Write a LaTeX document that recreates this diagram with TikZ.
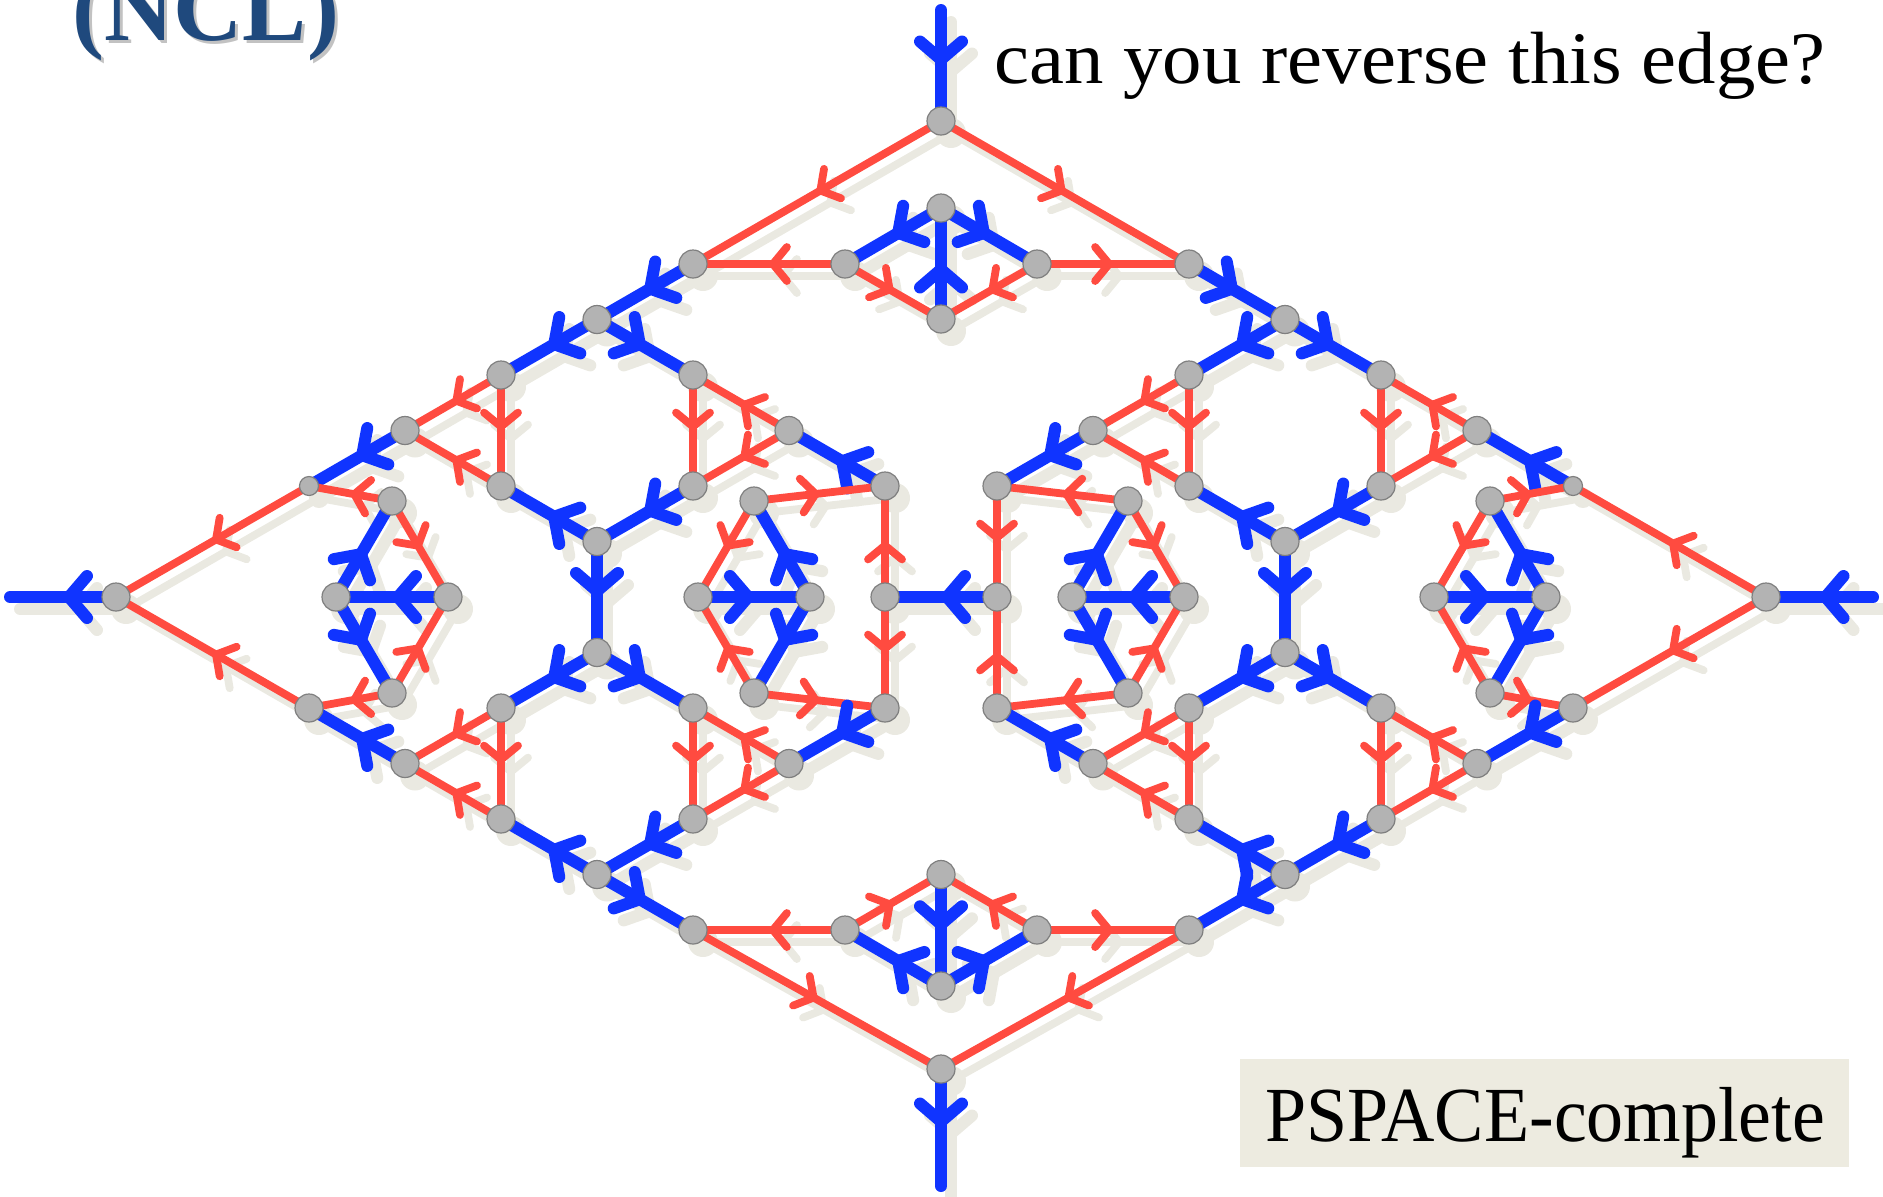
\documentclass[tikz,border=0pt]{standalone}
\usepackage{fontspec}
\setmainfont{Liberation Serif}
\usetikzlibrary{arrows.meta,decorations.markings}
\definecolor{ncred}{HTML}{FF4B40}
\definecolor{ncblue}{HTML}{1034FF}
\definecolor{ncgray}{HTML}{B3B3B3}
\definecolor{ncgrayd}{HTML}{7F7F7F}
\definecolor{ncshadow}{HTML}{EAE9E1}
\definecolor{ncbox}{HTML}{EDEBE0}
\definecolor{nctitle}{HTML}{1F497D}
\tikzset{
 mkred/.style={draw=#1, line width=3.9pt, line cap=round, postaction={decorate},
   decoration={markings, mark=at position 0.5 with {\arrow[#1]{Straight Barb[length=7pt,width=17pt,line width=3.9pt,round]}}}},
 mkblue/.style={draw=#1, line width=6pt, line cap=round, postaction={decorate},
   decoration={markings, mark=at position 0.5 with {\arrow[#1]{Straight Barb[length=9pt,width=21pt,line width=6pt,round]}}}},
 redline/.style={mkred=ncred},
 blueline/.style={mkblue=ncblue},
 vtx/.style={circle, fill=ncgray, draw=ncgrayd, line width=0.6pt, minimum size=14pt, inner sep=0pt},
 svtx/.style={vtx, minimum size=9.5pt},
}
\newcommand\ncR[2]{\draw[redline] (#1) -- (#2);}
\newcommand\ncB[2]{\draw[blueline] (#1) -- (#2);}
\newcommand\ncEdges{%
\ncB{ST}{T0}
\ncR{T0}{T1} \ncR{T0}{T2}
\ncR{A1}{T1} \ncR{A2}{T2}
\ncB{A3}{A1} \ncB{A3}{A2} \ncB{A4}{A3}
\ncR{A1}{A4} \ncR{A2}{A4}
\ncB{T1}{L1} \ncB{L1}{L2} \ncB{L1}{L3}
\ncR{L2}{L4} \ncR{L3}{L5}
\ncB{L6}{L4} \ncB{L5}{L6} \ncB{L6}{L7}
\ncR{L2}{L8} \ncR{L4}{L8} \ncB{L8}{L9}
\ncR{L10}{L3} \ncR{L10}{L5} \ncB{L11}{L10}
\ncR{L9}{L0} \ncR{L21}{L0} \ncB{L0}{SL}
\ncR{N1}{L9} \ncR{N4}{L21} \ncR{N1}{N3} \ncR{N4}{N3} \ncB{N2}{N1} \ncB{N3}{N2} \ncB{N2}{N4}
\ncR{M1}{L11} \ncR{M4}{L13} \ncR{M1}{M2} \ncR{M4}{M2} \ncB{M2}{M3} \ncB{M3}{M1} \ncB{M3}{M4}
\ncR{L12}{L11} \ncR{L12}{L13} \ncB{R12}{L12}
\ncR{R11}{R12} \ncR{R13}{R12}
\ncR{P1}{R11} \ncR{P4}{R13} \ncR{P1}{P3} \ncR{P4}{P3} \ncB{P2}{P1} \ncB{P3}{P2} \ncB{P2}{P4}
\ncB{L13}{L14}
\ncB{L7}{L19} \ncB{L7}{L15} \ncR{L19}{L18} \ncR{L15}{L16} \ncB{L17}{L18} \ncB{L16}{L17} \ncB{L17}{B1}
\ncR{L14}{L15} \ncR{L14}{L16}
\ncR{L19}{L20} \ncR{L18}{L20} \ncB{L20}{L21}
\ncR{B1}{B0} \ncR{C1}{B1} \ncR{C2}{B2} \ncR{B2}{B0} \ncB{B0}{SB}
\ncR{C1}{C3} \ncR{C2}{C3} \ncB{C3}{C4} \ncB{C4}{C1} \ncB{C4}{C2}
\ncB{T2}{R1} \ncB{R1}{R2} \ncB{R1}{R3} \ncR{R2}{R4} \ncR{R3}{R5} \ncB{R6}{R4} \ncB{R5}{R6} \ncB{R6}{R7}
\ncR{R2}{R8} \ncR{R4}{R8} \ncB{R8}{R11}
\ncR{R10}{R3} \ncR{R10}{R5} \ncB{R9}{R10}
\ncR{Q1}{R9} \ncR{Q4}{R21} \ncR{Q1}{Q2} \ncR{Q4}{Q2} \ncB{Q2}{Q3} \ncB{Q3}{Q1} \ncB{Q3}{Q4}
\ncR{R0}{R9} \ncR{R0}{R21} \ncB{SR}{R0}
\ncB{R7}{R19} \ncB{R7}{R15} \ncR{R19}{R18} \ncR{R15}{R16} \ncB{R17}{R18} \ncB{R16}{R17} \ncB{R17}{B2}
\ncR{R20}{R15} \ncR{R20}{R16} \ncB{R21}{R20}
\ncR{R19}{R14} \ncR{R18}{R14} \ncB{R14}{R13}
}
\newcommand\ncBig{T0,T1,T2,A1,A2,A3,A4,B0,B1,B2,C1,C2,C3,C4,
L0,L1,L2,L3,L4,L5,L6,L7,L8,L10,L11,L12,L13,L14,L15,L16,L17,L18,L19,L20,L21,
R0,R1,R2,R3,R4,R5,R6,R7,R8,R10,R11,R12,R13,R14,R15,R16,R17,R18,R19,R20,R21,
N1,N2,N3,N4,M1,M2,M3,M4,P1,P2,P3,P4,Q1,Q2,Q3,Q4}
\begin{document}
\begin{tikzpicture}[x=0.5pt,y=-0.5pt]
\useasboundingbox (0,0) rectangle (1883,1196);
\clip (0,0) rectangle (1883,1196);
% coordinates
\coordinate (ST) at (941,10);
\coordinate (T0) at (941,121);
\coordinate (T1) at (693,264);
\coordinate (T2) at (1189,264);
\coordinate (A1) at (845,264);
\coordinate (A2) at (1037,264);
\coordinate (A3) at (941,208);
\coordinate (A4) at (941,319);
\coordinate (L0) at (116,597);
\coordinate (SL) at (10,597);
\coordinate (L1) at (597,319.5);
\coordinate (L2) at (501,375);
\coordinate (L3) at (693,375);
\coordinate (L4) at (501,486);
\coordinate (L5) at (693,486);
\coordinate (L6) at (597,541.5);
\coordinate (L7) at (597,652.5);
\coordinate (L8) at (405,430.5);
\coordinate (L9) at (309,486);
\coordinate (L10) at (789,430.5);
\coordinate (L11) at (885,486);
\coordinate (L12) at (885,597);
\coordinate (L13) at (885,708);
\coordinate (L14) at (789,763.5);
\coordinate (L15) at (693,708);
\coordinate (L16) at (693,819);
\coordinate (L17) at (597,874.5);
\coordinate (L18) at (501,819);
\coordinate (L19) at (501,708);
\coordinate (L20) at (405,763.5);
\coordinate (L21) at (309,708);
\coordinate (N1) at (392,501);
\coordinate (N2) at (336,597);
\coordinate (N3) at (448,597);
\coordinate (N4) at (392,693);
\coordinate (M1) at (754,501);
\coordinate (M2) at (698,597);
\coordinate (M3) at (810,597);
\coordinate (M4) at (754,693);
\coordinate (R0) at (1766,597);
\coordinate (SR) at (1873,597);
\coordinate (R1) at (1285,319.5);
\coordinate (R2) at (1189,375);
\coordinate (R3) at (1381,375);
\coordinate (R4) at (1189,486);
\coordinate (R5) at (1381,486);
\coordinate (R6) at (1285,541.5);
\coordinate (R7) at (1285,652.5);
\coordinate (R8) at (1093,430.5);
\coordinate (R9) at (1573,486);
\coordinate (R10) at (1477,430.5);
\coordinate (R11) at (997,486);
\coordinate (R12) at (997,597);
\coordinate (R13) at (997,708);
\coordinate (R14) at (1093,763.5);
\coordinate (R15) at (1381,708);
\coordinate (R16) at (1381,819);
\coordinate (R17) at (1285,874.5);
\coordinate (R18) at (1189,819);
\coordinate (R19) at (1189,708);
\coordinate (R20) at (1477,763.5);
\coordinate (R21) at (1573,708);
\coordinate (P1) at (1128,501);
\coordinate (P2) at (1072,597);
\coordinate (P3) at (1184,597);
\coordinate (P4) at (1128,693);
\coordinate (Q1) at (1490,501);
\coordinate (Q2) at (1434,597);
\coordinate (Q3) at (1546,597);
\coordinate (Q4) at (1490,693);
\coordinate (B0) at (941,1069);
\coordinate (B1) at (693,930);
\coordinate (B2) at (1189,930);
\coordinate (C1) at (845,930);
\coordinate (C2) at (1037,930);
\coordinate (C3) at (941,874.5);
\coordinate (C4) at (941,986);
\coordinate (SB) at (941,1186);
% shadow
\begin{scope}[transform canvas={shift={(5pt,-6pt)}}, redline/.style={mkred=ncshadow}, blueline/.style={mkblue=ncshadow}]
\ncEdges
\foreach \v in \ncBig {\fill[ncshadow] (\v) circle[radius=7.5pt];}
\fill[ncshadow] (L9) circle[radius=5pt];
\fill[ncshadow] (R9) circle[radius=5pt];
\end{scope}
% graph
\ncEdges
\foreach \v in \ncBig {\node[vtx] (v\v) at (\v) {};}
\node[svtx] (vL9) at (L9) {};
\node[svtx] (vR9) at (R9) {};
% texts
\node[anchor=base west, inner sep=0pt, text=black!40, opacity=0.6] (titleshadow) at (75,43) {\fontsize{48}{50}\selectfont\bfseries (NCL)};
\node[anchor=base west, inner sep=0pt, text=nctitle] (title) at (72,40) {\fontsize{48}{50}\selectfont\bfseries (NCL)};
\node[anchor=base west, inner sep=0pt] (question) at (994,83) {\resizebox{415.5pt}{\height}{\fontsize{37}{40}\selectfont can you reverse this edge?}};
\node[fill=ncbox, minimum width=304.5pt, minimum height=54pt, inner sep=0pt] (pbox) at (1544.5,1113) {};
\node[anchor=base, inner sep=0pt] (ptext) at (1545,1141) {\resizebox{280pt}{\height}{\fontsize{39}{42}\selectfont PSPACE-complete}};
\end{tikzpicture}
\end{document}
